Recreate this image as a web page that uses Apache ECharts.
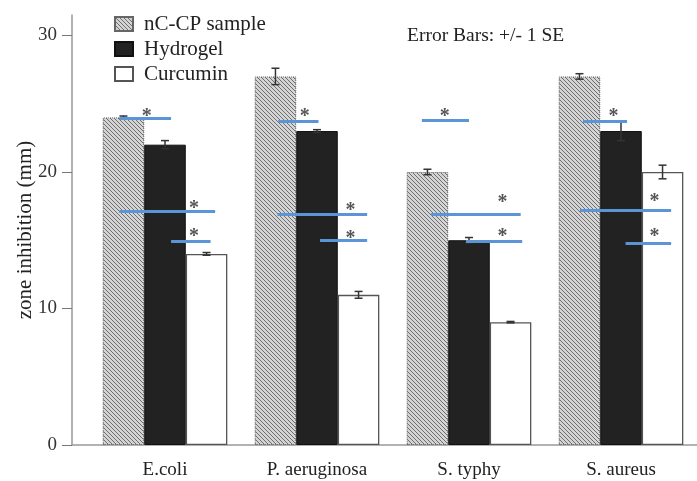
<!DOCTYPE html>
<html>
<head>
<meta charset="utf-8">
<script src="https://cdn.jsdelivr.net/npm/echarts@6/dist/echarts.min.js"></script>
<style>
  html, body { margin: 0; padding: 0; background: #fff; }
  #chart { width: 697px; height: 481px; }
</style>
</head>
<body>
<div id="chart"></div>
<script>
  // categories and series
  const categories = ['E.coli', 'P. aeruginosa', 'S. typhy', 'S. aureus']
  const seriesNames = ['nC-CP sample', 'Hydrogel', 'Curcumin']
  const ncpValues = [24, 27, 20, 27]
  const hydrogelValues = [22, 23, 15, 23]
  const curcuminValues = [14, 11, 9, 20]
  // +/- 1 SE
  const ncpErr = [0.1, 0.6, 0.2, 0.2]
  const hydrogelErr = [0.3, 0.1, 0.2, 0.7]
  const curcuminErr = [0.1, 0.25, 0.05, 0.5]
  const yTicks = [0, 10, 20, 30]

  // significance marks: category index, start/end inside category (0..1), level
  const sigCat = [0, 0, 0, 1, 1, 1, 2, 2, 2, 3, 3, 3]
  const sigFrom = [0.20, 0.20, 0.54, 0.245, 0.24, 0.52, 0.19, 0.25, 0.48, 0.25, 0.23, 0.53]
  const sigTo = [0.54, 0.83, 0.80, 0.51, 0.83, 0.83, 0.50, 0.84, 0.85, 0.54, 0.83, 0.83]
  const sigLevel = [23.9, 17.1, 14.9, 23.7, 16.9, 15.0, 23.8, 16.9, 14.9, 23.7, 17.2, 14.8]
  const starPos = [0.38, 0.69, 0.69, 0.42, 0.72, 0.72, 0.34, 0.72, 0.72, 0.45, 0.72, 0.72]
  const starLevel = [24.4, 17.7, 15.6, 24.4, 17.5, 15.5, 24.4, 18.1, 15.6, 24.4, 18.2, 15.6]

  const font = 'Liberation Serif'

  function hatch() {
    let c = document.createElement('canvas')
    c.width = 4
    c.height = 4
    let ctx = c.getContext('2d')
    ctx.fillStyle = '#d4d4d4'
    ctx.fillRect(0, 0, 4, 4)
    ctx.fillStyle = '#6e6e6e'
    for (let i = 0; i < 4; i++) {
      ctx.fillRect(i, i, 1, 1)
    }
    return c
  }
  const hatchFill = { image: hatch(), repeat: 'repeat' }

  function buildErrData() {
    let arr = []
    let vals = [ncpValues, hydrogelValues, curcuminValues]
    let errs = [ncpErr, hydrogelErr, curcuminErr]
    for (let s = 0; s < 3; s++) {
      for (let i = 0; i < categories.length; i++) {
        arr.push([i, vals[s][i], errs[s][i], s])
      }
    }
    return arr
  }

  function buildSigLines() {
    let arr = []
    for (let i = 0; i < sigCat.length; i++) {
      arr.push({ coords: [[sigCat[i] + sigFrom[i], sigLevel[i]], [sigCat[i] + sigTo[i], sigLevel[i]]] })
    }
    return arr
  }

  function buildStars() {
    let arr = []
    for (let i = 0; i < sigCat.length; i++) {
      arr.push([sigCat[i] + starPos[i], starLevel[i]])
    }
    return arr
  }

  let myChart = echarts.init(document.getElementById('chart'))
  myChart.setOption({
    animation: false,
    backgroundColor: '#fff',
    // grid 0 carries the frame (y axis + base line), grid 1 the bars
    grid: [
      { left: 72, top: 15, right: 0, bottom: 36 },
      { left: 89, top: 15, width: 620, bottom: 36 }
    ],
    legend: {
      orient: 'vertical',
      left: 109,
      top: 8,
      icon: 'rect',
      itemWidth: 18,
      itemHeight: 14,
      itemGap: 3,
      data: seriesNames,
      textStyle: { fontFamily: font, fontSize: 21, lineHeight: 22, color: '#222', padding: [0, 0, 0, 6] }
    },
    graphic: [
      {
        type: 'text', left: 407, top: 26,
        style: { text: 'Error Bars: +/- 1 SE', font: '19.5px "Liberation Serif"', fill: '#222' }
      }
    ],
    xAxis: [
      {
        gridIndex: 0, type: 'value', min: 0, max: 1,
        axisLine: { show: true, lineStyle: { color: '#999', width: 1.5 } },
        axisTick: { show: false }, axisLabel: { show: false }, splitLine: { show: false }
      },
      {
        gridIndex: 1,
        type: 'category',
        data: categories,
        axisLine: { show: false },
        axisTick: { alignWithLabel: true, length: 6, lineStyle: { color: '#666' } },
        axisLabel: { fontFamily: font, fontSize: 19, color: '#222', margin: 16 }
      },
      { gridIndex: 1, type: 'value', min: 0, max: 4, show: false }
    ],
    yAxis: [
      {
        gridIndex: 0,
        type: 'value',
        min: 0,
        max: 31.5,
        name: 'zone inhibition (mm)',
        nameLocation: 'middle',
        nameGap: 36,
        nameMoveOverlap: false,
        nameTextStyle: { fontFamily: font, fontSize: 21, color: '#222' },
        axisLine: { show: true, lineStyle: { color: '#999', width: 1.5 } },
        axisTick: { show: true, length: 10, customValues: yTicks, lineStyle: { color: '#777' } },
        axisLabel: { fontFamily: font, fontSize: 19, color: '#333', margin: 15, customValues: yTicks },
        splitLine: { show: false }
      },
      { gridIndex: 1, type: 'value', min: 0, max: 31.5, show: false }
    ],
    series: [
      {
        name: seriesNames[0], type: 'bar', xAxisIndex: 1, yAxisIndex: 1,
        barGap: '0%', barCategoryGap: '18%',
        data: ncpValues,
        itemStyle: { color: hatchFill, borderColor: '#666', borderWidth: 1, borderType: 'dotted' }
      },
      {
        name: seriesNames[1], type: 'bar', xAxisIndex: 1, yAxisIndex: 1,
        data: hydrogelValues,
        itemStyle: { color: '#222', borderColor: '#111', borderWidth: 1 }
      },
      {
        name: seriesNames[2], type: 'bar', xAxisIndex: 1, yAxisIndex: 1,
        data: curcuminValues,
        itemStyle: { color: '#fff', borderColor: '#555', borderWidth: 1.3 }
      },
      {
        type: 'custom', xAxisIndex: 1, yAxisIndex: 1,
        data: buildErrData(),
        z: 5,
        renderItem: function (params, api) {
          let cat = api.value(0)
          let val = api.value(1)
          let err = api.value(2)
          let s = api.value(3)
          let band = api.size([1, 0])[0]
          let barW = band * 0.82 / 3
          let cx = api.coord([cat, 0])[0] + (s - 1) * barW
          let top = api.coord([cat, val + err])[1]
          let bot = api.coord([cat, val - err])[1]
          let style = { stroke: '#333', lineWidth: 1.5 }
          return {
            type: 'group',
            children: [
              { type: 'line', shape: { x1: cx, y1: top, x2: cx, y2: bot }, style: style },
              { type: 'line', shape: { x1: cx - 4, y1: top, x2: cx + 4, y2: top }, style: style },
              { type: 'line', shape: { x1: cx - 4, y1: bot, x2: cx + 4, y2: bot }, style: style }
            ]
          }
        }
      },
      {
        type: 'lines',
        coordinateSystem: 'cartesian2d',
        xAxisIndex: 2, yAxisIndex: 1,
        z: 6,
        lineStyle: { color: '#5b95d5', width: 3, opacity: 1 },
        data: buildSigLines()
      },
      {
        type: 'scatter',
        xAxisIndex: 2, yAxisIndex: 1,
        z: 7,
        symbol: 'circle',
        symbolSize: 0,
        data: buildStars(),
        label: {
          show: true, position: 'inside', formatter: '*',
          fontFamily: font, fontSize: 20, fontWeight: 'bold', color: '#2a2a2a', offset: [0, 5]
        }
      }
    ]
  })
</script>
</body>
</html>
